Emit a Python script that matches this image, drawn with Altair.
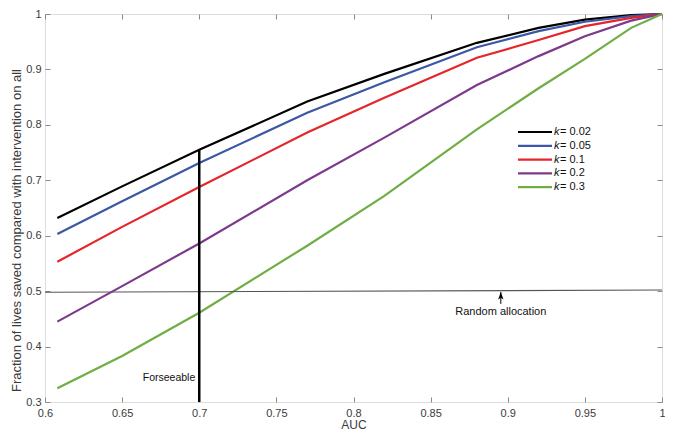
import altair as alt
import pandas as pd

# ---- data ----
auc = [0.608, 0.65, 0.70, 0.77, 0.82, 0.88, 0.92, 0.95, 0.98, 1.00]
k_labels = ["0.02", "0.05", "0.1", "0.2", "0.3"]
k002 = [0.632, 0.689, 0.755, 0.842, 0.892, 0.948, 0.975, 0.990, 0.998, 1.0]
k005 = [0.603, 0.662, 0.731, 0.822, 0.877, 0.940, 0.969, 0.986, 0.996, 1.0]
k01 = [0.553, 0.616, 0.688, 0.786, 0.849, 0.921, 0.953, 0.978, 0.993, 1.0]
k02 = [0.445, 0.509, 0.586, 0.700, 0.777, 0.872, 0.924, 0.960, 0.988, 1.0]
k03 = [0.325, 0.383, 0.461, 0.582, 0.672, 0.792, 0.866, 0.919, 0.975, 1.0]
series = [k002, k005, k01, k02, k03]
colors = ["#000000", "#3B57A6", "#E4262B", "#7D3A8C", "#6FAD45"]

x_ticks = [0.6, 0.65, 0.7, 0.75, 0.8, 0.85, 0.9, 0.95, 1.0]
y_ticks = [0.3, 0.4, 0.5, 0.6, 0.7, 0.8, 0.9, 1.0]

random_x = [0.6, 1.0]
random_y = [0.498, 0.502]
random_label = "Random allocation"
random_label_x = 0.8955
random_label_y = 0.463
arrow_x = 0.8955
arrow_tip_y = 0.4985
arrow_tail_y = 0.477

forseeable_x = 0.7
forseeable_y0 = 0.3
forseeable_y1 = 0.755
forseeable_label = "Forseeable"
forseeable_label_y = 0.343

FONT = "Liberation Sans"

rows = []
for lab, vals in zip(k_labels, series):
    for a, v in zip(auc, vals):
        rows.append({"AUC": a, "frac": v, "k": lab})
df = pd.DataFrame(rows)

xs = alt.Scale(domain=[0.6, 1.0], nice=False, zero=False)
ys = alt.Scale(domain=[0.3, 1.0], nice=False, zero=False)
cs = alt.Scale(domain=k_labels, range=colors)


def axis(orient, values, labels=True, title=None, label_pad=5, **extra):
    return alt.Axis(orient=orient, values=values, format="~g", grid=False, domain=False,
                    ticks=True, tickSize=5, offset=-5, tickColor="#8a8a8a",
                    labels=labels, labelFlush=False, labelFont=FONT, labelFontSize=11,
                    labelColor="#3a3a3a", labelPadding=label_pad, title=title,
                    titleFont=FONT, titleFontWeight="normal", titleColor="#3a3a3a", **extra)


def X(field):
    return alt.X(field, scale=xs, axis=None)


def Y(field):
    return alt.Y(field, scale=ys, axis=None)


lines = alt.Chart(df).mark_line(strokeWidth=2.2).encode(
    x=alt.X("AUC:Q", scale=xs, axis=axis("bottom", x_ticks, True, "AUC", 5,
                                          titleFontSize=12, titlePadding=1)),
    y=alt.Y("frac:Q", scale=ys, axis=axis("left", y_ticks, True,
            "Fraction of lives saved compared with intervention on all", 4,
            titleFontSize=13, titlePadding=2, titleY=216)),
    color=alt.Color("k:N", scale=cs, legend=None),
    order=alt.Order("AUC:Q"),
)

# mirrored top/right inward ticks
frame_ticks = alt.Chart(pd.DataFrame({"AUC": [0.6], "frac": [0.3]})).mark_point(opacity=0).encode(
    x=alt.X("AUC:Q", scale=xs, axis=axis("top", x_ticks, False)),
    y=alt.Y("frac:Q", scale=ys, axis=axis("right", y_ticks, False)),
)

rand_df = pd.DataFrame({"AUC": random_x, "frac": random_y})
rand_line = alt.Chart(rand_df).mark_line(color="#555555", strokeWidth=1.1).encode(
    x=X("AUC:Q"), y=Y("frac:Q"))

arrow_df = pd.DataFrame({"AUC": [arrow_x], "y0": [arrow_tail_y], "y1": [arrow_tip_y]})
arrow_stem = alt.Chart(arrow_df).mark_rule(color="#000000", strokeWidth=1).encode(
    x=X("AUC:Q"), y=Y("y0:Q"), y2="y1:Q")
arrow_head = alt.Chart(arrow_df).mark_point(
    shape="M0,-1L0.6,0.7L0,0.3L-0.6,0.7Z", filled=True, color="#000000",
    size=80, opacity=1, yOffset=4.5).encode(x=X("AUC:Q"), y=Y("y1:Q"))

rand_text = alt.Chart(pd.DataFrame({"AUC": [random_label_x], "frac": [random_label_y],
                                    "t": [random_label]})).mark_text(
    font=FONT, fontSize=11, color="#111111", align="center", baseline="middle").encode(
    x=X("AUC:Q"), y=Y("frac:Q"), text="t:N")

fore_df = pd.DataFrame({"AUC": [forseeable_x], "y0": [forseeable_y0], "y1": [forseeable_y1]})
fore_line = alt.Chart(fore_df).mark_rule(color="#000000", strokeWidth=2.5).encode(
    x=X("AUC:Q"), y=Y("y0:Q"), y2="y1:Q")
fore_text = alt.Chart(pd.DataFrame({"AUC": [forseeable_x], "frac": [forseeable_label_y],
                                    "t": [forseeable_label]})).mark_text(
    font=FONT, fontSize=10.5, color="#111111", align="right", baseline="middle", dx=-4).encode(
    x=X("AUC:Q"), y=Y("frac:Q"), text="t:N")

# manual legend (italic k), placed in pixel layout space
LEG_X0, LEG_X1, LEG_TOP, LEG_STEP = 473, 507, 118, 13.8
legend_layers = []
for i, (lab, col) in enumerate(zip(k_labels, colors)):
    ly = LEG_TOP + i * LEG_STEP
    d = pd.DataFrame({"kk": ["k"], "eq": ["= " + lab]})
    legend_layers.append(alt.Chart(d).mark_rule(strokeWidth=2.2, color=col).encode(
        x=alt.value(LEG_X0), x2=alt.value(LEG_X1), y=alt.value(ly)))
    legend_layers.append(alt.Chart(d).mark_text(font=FONT, fontSize=11, fontStyle="italic",
                                                align="left", baseline="middle",
                                                color="#111111").encode(
        x=alt.value(LEG_X1 + 2), y=alt.value(ly), text="kk:N"))
    legend_layers.append(alt.Chart(d).mark_text(font=FONT, fontSize=11, align="left",
                                                baseline="middle", color="#111111").encode(
        x=alt.value(LEG_X1 + 8), y=alt.value(ly), text="eq:N"))

chart = alt.layer(lines, rand_line, arrow_stem, arrow_head, rand_text, fore_line, fore_text,
                  frame_ticks, *legend_layers).resolve_axis(
    x="independent", y="independent").properties(
    width=617, height=388,
    autosize=alt.AutoSizeParams(type="none"),
    padding={"left": 37, "top": 6, "right": 3, "bottom": 32},
).configure_view(stroke="#8a8a8a", strokeWidth=1.2).configure(background="white")

chart.save("out.html", embed_options={"renderer": "svg", "actions": False})
